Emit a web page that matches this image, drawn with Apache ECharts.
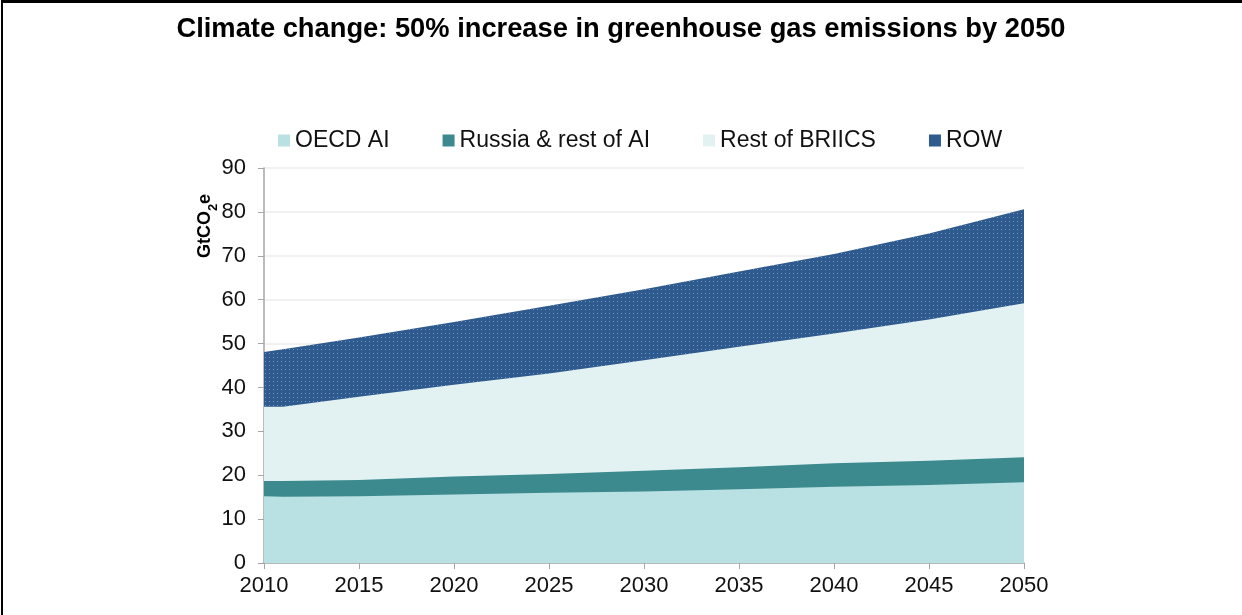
<!DOCTYPE html>
<html>
<head>
<meta charset="utf-8">
<script src="https://cdn.jsdelivr.net/npm/echarts@6/dist/echarts.min.js"></script>
<style>
  html, body { margin: 0; padding: 0; background: #fff; }
  #chart { width: 1242px; height: 615px; position: relative; }
  #border { position: absolute; left: 1px; top: 0; width: 1241px; height: 615px; border-left: 2px solid #000; border-top: 3px solid #000; box-sizing: border-box; pointer-events: none; }
</style>
</head>
<body>
<div id="chart"></div>
<div id="border"></div>
<script>
// ---- data (GtCO2e, values of each layer) ----
const years = [2010, 2011, 2015, 2020, 2025, 2030, 2035, 2040, 2045, 2050];
const oecdAI   = [15.2, 15.1, 15.2, 15.6, 16.0, 16.3, 16.8, 17.4, 17.8, 18.4];
const russiaAI = [3.5, 3.6, 3.7, 4.1, 4.3, 4.7, 5.0, 5.3, 5.5, 5.7];
const briics   = [16.9, 16.9, 19.0, 20.9, 22.9, 25.2, 27.5, 29.6, 32.2, 35.1];
const row      = [12.5, 13.1, 13.5, 14.3, 15.4, 16.2, 17.1, 18.1, 19.6, 21.4];
const seriesNames = ['OECD AI', 'Russia & rest of AI', 'Rest of BRIICS', 'ROW'];
const yTicks = [0, 10, 20, 30, 40, 50, 60, 70, 80, 90];
const xTicks = [2010, 2015, 2020, 2025, 2030, 2035, 2040, 2045, 2050];

const colors = ['#b9e0e2', '#3c8a8e', '#e2f2f3', '#2f5a8e'];

// dotted pattern for ROW
const pc = document.createElement('canvas');
pc.width = 4; pc.height = 4;
const pctx = pc.getContext('2d');
pctx.fillStyle = '#2f5a8e';
pctx.fillRect(0, 0, 4, 4);
pctx.fillStyle = '#7097c8';
pctx.fillRect(1, 1, 1, 1);
const dotPattern = { image: pc, repeat: 'repeat' };

// cumulative tops (stacked manually)
const layers = [oecdAI, russiaAI, briics, row];
const cumulative = [];
layers.forEach((arr, i) => {
  cumulative.push(arr.map((v, j) => +(v + (i ? cumulative[i - 1][j] : 0)).toFixed(2)));
});
const pairs = arr => years.map((y, i) => [y, arr[i]]);

const chart = echarts.init(document.getElementById('chart'), null, { renderer: 'canvas' });
chart.setOption({
  backgroundColor: '#fff',
  animation: false,
  title: {
    text: 'Climate change: 50% increase in greenhouse gas emissions by 2050',
    left: 'center',
    top: 11,
    textStyle: { fontFamily: 'Liberation Sans', fontWeight: 'bold', fontSize: 27.3, color: '#000' }
  },
  legend: {
    left: 273,
    top: 124,
    itemWidth: 12,
    itemHeight: 12,
    itemGap: 53,
    icon: 'rect',
    textStyle: { fontFamily: 'Liberation Sans', fontSize: 23, color: '#111' },
    data: seriesNames.map((n, i) => ({ name: n, itemStyle: { color: i === 3 ? '#2f5a8e' : colors[i] } }))
  },
  grid: { left: 264, right: 218, top: 168, bottom: 52, containLabel: false },
  xAxis: {
    type: 'value',
    min: 2010, max: 2050, interval: 5,
    axisLine: { show: true, lineStyle: { color: '#a6a6a6', width: 1.5 } },
    axisTick: { show: true, length: 6, lineStyle: { color: '#a6a6a6' } },
    splitLine: { show: false },
    axisLabel: { fontFamily: 'Liberation Sans', fontSize: 22, color: '#111', margin: 12,
      formatter: v => xTicks.includes(v) ? String(v) : '' }
  },
  yAxis: {
    type: 'value',
    min: 0, max: 90, interval: 10,
    axisLine: { show: true, lineStyle: { color: '#a6a6a6', width: 1.5 } },
    axisTick: { show: true, length: 6, lineStyle: { color: '#a6a6a6' } },
    splitLine: { show: true, lineStyle: { color: '#ececec', width: 1.5 } },
    axisLabel: { fontFamily: 'Liberation Sans', fontSize: 22, color: '#111', margin: 18,
      formatter: v => yTicks.includes(v) ? String(v) : '' }
  },
  graphic: [{
    type: 'text',
    x: 204,
    y: 226,
    rotation: Math.PI / 2,
    style: {
      text: '{a|GtCO}{b|2}{a|e}',
      align: 'center',
      verticalAlign: 'middle',
      rich: {
        a: { fontFamily: 'Liberation Sans', fontWeight: 'bold', fontSize: 18, color: '#000', lineHeight: 21, verticalAlign: 'bottom' },
        b: { fontFamily: 'Liberation Sans', fontWeight: 'bold', fontSize: 13, color: '#000', lineHeight: 15, verticalAlign: 'bottom', padding: [0, 0, -5, 0] }
      }
    }
  }],
  series: seriesNames.map((n, i) => ({
    name: n,
    type: 'line',
    data: pairs(cumulative[i]),
    showSymbol: false,
    symbol: 'none',
    lineStyle: { width: 0 },
    itemStyle: { color: i === 3 ? '#2f5a8e' : colors[i] },
    areaStyle: { color: i === 3 ? dotPattern : colors[i], opacity: 1, origin: 'start' },
    z: 10 - i
  }))
});
</script>
</body>
</html>
